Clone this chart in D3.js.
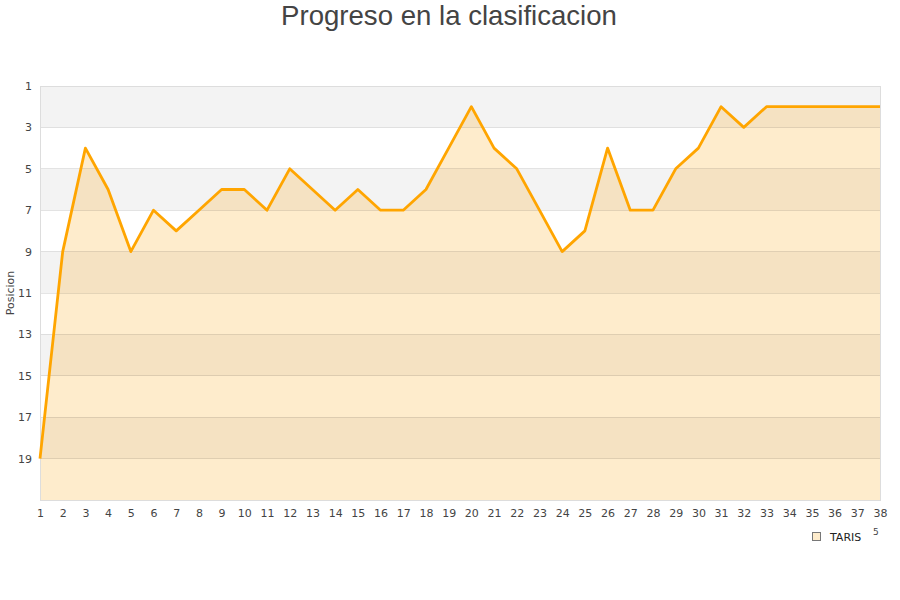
<!DOCTYPE html>
<html><head><meta charset="utf-8">
<script src="https://cdn.jsdelivr.net/npm/d3@7"></script>
<style>body{margin:0;background:#fff;} svg{display:block;}</style>
</head><body>
<svg id="c" width="900" height="600"></svg>
<script>
const jornadas = d3.range(1, 39);
const posiciones = [19,9,4,6,9,7,8,7,6,6,7,5,6,7,6,7,7,6,4,2,4,5,7,9,8,4,7,7,5,4,2,3,2,2,2,2,2,2];
const yTicks = [1,3,5,7,9,11,13,15,17,19];
const bands = [[1,3],[5,7],[9,11],[13,15],[17,19]];
const serieNombre = "TARIS";
const titulo = "Progreso en la clasificacion";

const svg = d3.select("#c");
const L = 40, R = 880, T = 86, B = 500;
const x = d3.scaleLinear().domain([1, 38]).range([L, R]);
const y = d3.scaleLinear().domain([1, 21]).range([T, B]);
const data = jornadas.map((j, i) => ({j, p: posiciones[i]}));

svg.append("text").attr("x", 449).attr("y", 25).attr("text-anchor", "middle")
  .attr("font-family", "Liberation Sans, Arial, sans-serif").attr("font-size", 27.6)
  .attr("fill", "#444").text(titulo);

// gray bands (plot background)
svg.selectAll(".band").data(bands).enter().append("rect")
  .attr("x", L).attr("width", R - L)
  .attr("y", d => y(d[0])).attr("height", d => y(d[1]) - y(d[0]))
  .attr("fill", "#f3f3f3");

// area
const clipId = "areaClip";
svg.append("clipPath").attr("id", clipId).append("path").datum(data)
  .attr("d", d3.area().x(d => x(d.j)).y0(B).y1(d => y(d.p)));
svg.append("path").datum(data)
  .attr("d", d3.area().x(d => x(d.j)).y0(B).y1(d => y(d.p)))
  .attr("fill", "#feeccc");
// darker bands inside area
svg.append("g").attr("clip-path", `url(#${clipId})`).selectAll("rect").data(bands).enter().append("rect")
  .attr("x", L).attr("width", R - L)
  .attr("y", d => y(d[0])).attr("height", d => y(d[1]) - y(d[0]))
  .attr("fill", "#f5e2c2");

// grid
svg.selectAll(".grid").data(yTicks.concat([21])).enter().append("line")
  .attr("x1", L).attr("x2", R).attr("y1", d => y(d)).attr("y2", d => y(d))
  .attr("stroke", "rgba(0,0,0,0.1)").attr("stroke-width", 1).attr("shape-rendering", "crispEdges");
svg.append("rect").attr("x", L).attr("y", T).attr("width", R - L).attr("height", B - T)
  .attr("fill", "none").attr("stroke", "#ddd").attr("shape-rendering", "crispEdges");

// line
svg.append("path").datum(data)
  .attr("d", d3.line().x(d => x(d.j)).y(d => y(d.p)))
  .attr("fill", "none").attr("stroke", "#ffa500").attr("stroke-width", 2.8).attr("stroke-linejoin", "round");

// axes
const font = "DejaVu Sans, Verdana, sans-serif";
const yAxis = svg.append("g").attr("transform", `translate(${L},0)`)
  .call(d3.axisLeft(y).tickValues(yTicks).tickSize(0).tickPadding(8));
yAxis.select(".domain").remove();
yAxis.selectAll("text").attr("font-family", font).attr("font-size", 11).attr("fill", "#444");

const xAxis = svg.append("g").attr("transform", `translate(0,${B})`)
  .call(d3.axisBottom(x).tickValues(jornadas).tickFormat(d3.format("d")).tickSize(0).tickPadding(9));
xAxis.select(".domain").remove();
xAxis.selectAll("text").attr("font-family", font).attr("font-size", 11).attr("fill", "#444");

svg.append("text").attr("transform", `translate(14,${(T + B) / 2}) rotate(-90)`)
  .attr("text-anchor", "middle").attr("font-family", font).attr("font-size", 11)
  .attr("fill", "#444").text("Posicion");

// legend
svg.append("rect").attr("x", 812.5).attr("y", 532.5).attr("width", 8).attr("height", 8)
  .attr("fill", "#feeccc").attr("stroke", "#777");
svg.append("text").attr("x", 830).attr("y", 541).attr("font-family", font).attr("font-size", 11)
  .attr("fill", "#222").text(serieNombre);
svg.append("text").attr("x", 873).attr("y", 535).attr("font-family", font).attr("font-size", 9)
  .attr("fill", "#444").text("5");
</script>
</body></html>
